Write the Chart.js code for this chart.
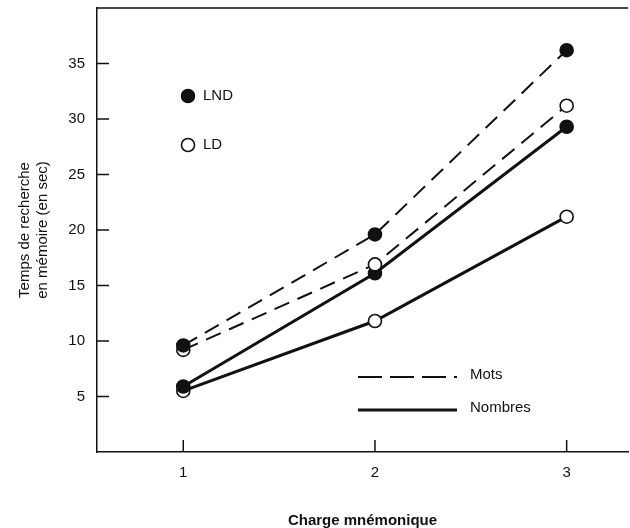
<!DOCTYPE html>
<html>
<head>
<meta charset="utf-8">
<script src="https://cdn.jsdelivr.net/npm/chart.js@4"></script>
<style>
  html, body { margin:0; padding:0; background:#fff; }
  #wrap { width:630px; height:528px; }
</style>
</head>
<body>
<div id="wrap"><canvas id="chart" width="630" height="528"></canvas></div>
<script>
// Data
const charge = [1, 2, 3];
const motsLND = [9.6, 19.6, 36.2];
const motsLD = [9.2, 16.9, 31.2];
const nombresLND = [5.9, 16.1, 29.3];
const nombresLD = [5.5, 11.8, 21.2];
const yTicks = [5, 10, 15, 20, 25, 30, 35];

const ink = '#111';
const font = "'Liberation Sans', Arial, sans-serif";

function pts(vals){ return charge.map((c, i) => ({x:c, y:vals[i]})); }

function series(label, vals, filled, dashed){
  return {
    label: label,
    data: pts(vals),
    borderColor: ink,
    borderWidth: dashed ? 2 : 3,
    borderDash: dashed ? [16, 9] : [],
    pointRadius: 6.5,
    pointBorderWidth: 1.6,
    pointBorderColor: ink,
    pointBackgroundColor: filled ? ink : '#fff',
    tension: 0
  };
}

// inward ticks, top frame, in-plot legends
const extras = {
  id: 'extras',
  afterDraw(chart){
    const c = chart.ctx, a = chart.chartArea;
    const xs = chart.scales.x, ys = chart.scales.y;
    c.save();
    c.strokeStyle = ink;
    c.lineWidth = 1.5;
    c.beginPath();
    c.moveTo(a.left, a.top); c.lineTo(a.right, a.top);
    yTicks.forEach(v => { const y = ys.getPixelForValue(v); c.moveTo(a.left, y); c.lineTo(a.left + 12, y); });
    charge.forEach(v => { const x = xs.getPixelForValue(v); c.moveTo(x, a.bottom); c.lineTo(x, a.bottom - 12); });
    c.stroke();

    // marker legend
    c.font = '15px ' + font;
    c.fillStyle = ink;
    c.textBaseline = 'middle';
    c.lineWidth = 1.6;
    c.beginPath(); c.arc(188, 96, 6.5, 0, Math.PI * 2); c.fill(); c.stroke();
    c.fillText('LND', 203, 96);
    c.fillStyle = '#fff';
    c.beginPath(); c.arc(188, 145, 6.5, 0, Math.PI * 2); c.fill(); c.stroke();
    c.fillStyle = ink;
    c.fillText('LD', 203, 145);

    // line legend
    c.lineWidth = 2;
    c.setLineDash([24, 8]);
    c.beginPath(); c.moveTo(358, 377); c.lineTo(457, 377); c.stroke();
    c.setLineDash([]);
    c.lineWidth = 3;
    c.beginPath(); c.moveTo(358, 410); c.lineTo(457, 410); c.stroke();
    c.fillText('Mots', 470, 375);
    c.fillText('Nombres', 470, 408);
    c.restore();
  }
};

new Chart(document.getElementById('chart'), {
  type: 'line',
  data: {
    datasets: [
      series('LND Mots', motsLND, true, true),
      series('LD Mots', motsLD, false, true),
      series('LND Nombres', nombresLND, true, false),
      series('LD Nombres', nombresLD, false, false)
    ]
  },
  options: {
    responsive: false,
    animation: false,
    layout: { autoPadding: false, padding: { top: 8, right: 2, left: 0, bottom: 0 } },
    plugins: { legend: { display: false }, tooltip: { enabled: false } },
    scales: {
      x: {
        type: 'linear',
        min: 0.55, max: 3.32,
        afterBuildTicks: s => { s.ticks = charge.map(v => ({value: v})); },
        afterFit: s => { s.height = 76; s.paddingLeft = 0; s.paddingRight = 0; },
        grid: { display: false, drawTicks: false },
        border: { color: ink, width: 1.5 },
        ticks: { color: ink, font: { family: font, size: 15 }, padding: 12 },
        title: { display: true, text: 'Charge mnémonique', color: ink,
                 font: { family: font, size: 15, weight: 'bold' }, padding: { top: 28, bottom: -2 } }
      },
      y: {
        min: 0, max: 40,
        afterBuildTicks: s => { s.ticks = yTicks.map(v => ({value: v})); },
        afterFit: s => { s.width = 97; s.paddingTop = 0; s.paddingBottom = 0; },
        grid: { display: false, drawTicks: false },
        border: { color: ink, width: 1.5 },
        ticks: { color: ink, font: { family: font, size: 15 }, padding: 12 },
        title: { display: true, text: ['Temps de recherche', 'en mémoire (en sec)'], color: ink,
                 font: { family: font, size: 15, lineHeight: 1.25 }, padding: { top: 15, bottom: 0 } }
      }
    }
  },
  plugins: [extras]
});
</script>
</body>
</html>
